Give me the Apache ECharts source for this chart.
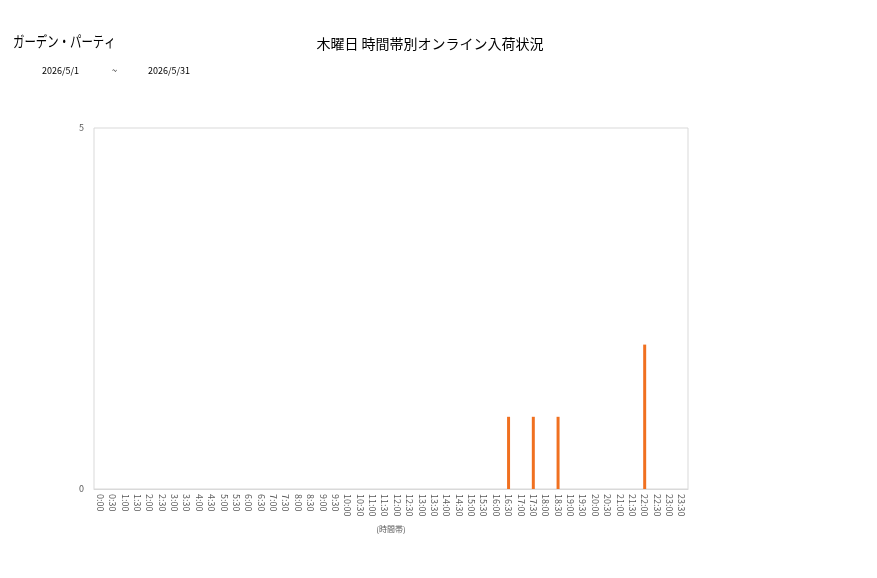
<!DOCTYPE html>
<html>
<head>
<meta charset="utf-8">
<script src="https://cdn.jsdelivr.net/npm/echarts@6/dist/echarts.min.js"></script>
<style>
  html, body { margin: 0; padding: 0; background: #fff; }
  #main { width: 877px; height: 578px; }
</style>
</head>
<body>
<div id="main"></div>
<script>
// 0:00 .. 23:30 every 30 minutes
const timeSlots = []
for (let h = 0; h < 24; h++) {
    timeSlots.push(h + ':00')
    timeSlots.push(h + ':30')
}
const arrivals = [
    0, 0, 0, 0, 0, 0, 0, 0, 0, 0, 0, 0,
    0, 0, 0, 0, 0, 0, 0, 0, 0, 0, 0, 0,
    0, 0, 0, 0, 0, 0, 0, 0, 0, 1, 0, 1,
    0, 1, 0, 0, 0, 0, 0, 0, 2, 0, 0, 0
]
const shopName = 'ガーデン・パーティ'
const chartTitle = '木曜日 時間帯別オンライン入荷状況'
const dateFrom = '2026/5/1'
const dateTo = '2026/5/31'

const font = '"Noto Sans CJK JP", "Noto Sans", sans-serif'
let myChart = echarts.init(document.getElementById('main'))
let option = {
    animation: false,
    textStyle: { fontFamily: font },
    graphic: [
        { type: 'text', x: 13, y: 34, scaleX: 0.76, style: { text: shopName, font: '15px ' + font, fill: '#000' } },
        { type: 'text', left: 42, top: 66, style: { text: dateFrom, font: '9px ' + font, fill: '#000' } },
        { type: 'text', left: 112, top: 66, style: { text: '~', font: '9px ' + font, fill: '#000' } },
        { type: 'text', left: 148, top: 66, style: { text: dateTo, font: '9px ' + font, fill: '#000' } }
    ],
    title: {
        text: chartTitle,
        left: 425,
        top: 32,
        textAlign: 'center',
        textStyle: { fontSize: 14, fontWeight: 'normal', color: '#000', fontFamily: font }
    },
    grid: {
        left: 94,
        right: 189,
        top: 128,
        bottom: 89,
        show: true,
        borderColor: '#d9d9d9',
        borderWidth: 1
    },
    xAxis: {
        type: 'category',
        data: timeSlots,
        name: '(時間帯)',
        nameLocation: 'middle',
        nameGap: 36,
        nameTextStyle: { fontSize: 8, color: '#595959' },
        axisLine: { lineStyle: { color: '#d9d9d9' } },
        axisTick: { show: false },
        axisLabel: { interval: 0, rotate: -90, fontSize: 9, color: '#595959', margin: 5 }
    },
    yAxis: {
        type: 'value',
        min: 0,
        max: 5,
        interval: 5,
        axisLine: { show: false },
        axisTick: { show: false },
        splitLine: { show: false },
        axisLabel: { fontSize: 9, color: '#595959', margin: 10 }
    },
    series: [{
        type: 'bar',
        data: arrivals,
        barWidth: 3,
        itemStyle: { color: '#f07020' }
    }]
}
myChart.setOption(option)
</script>
</body>
</html>
